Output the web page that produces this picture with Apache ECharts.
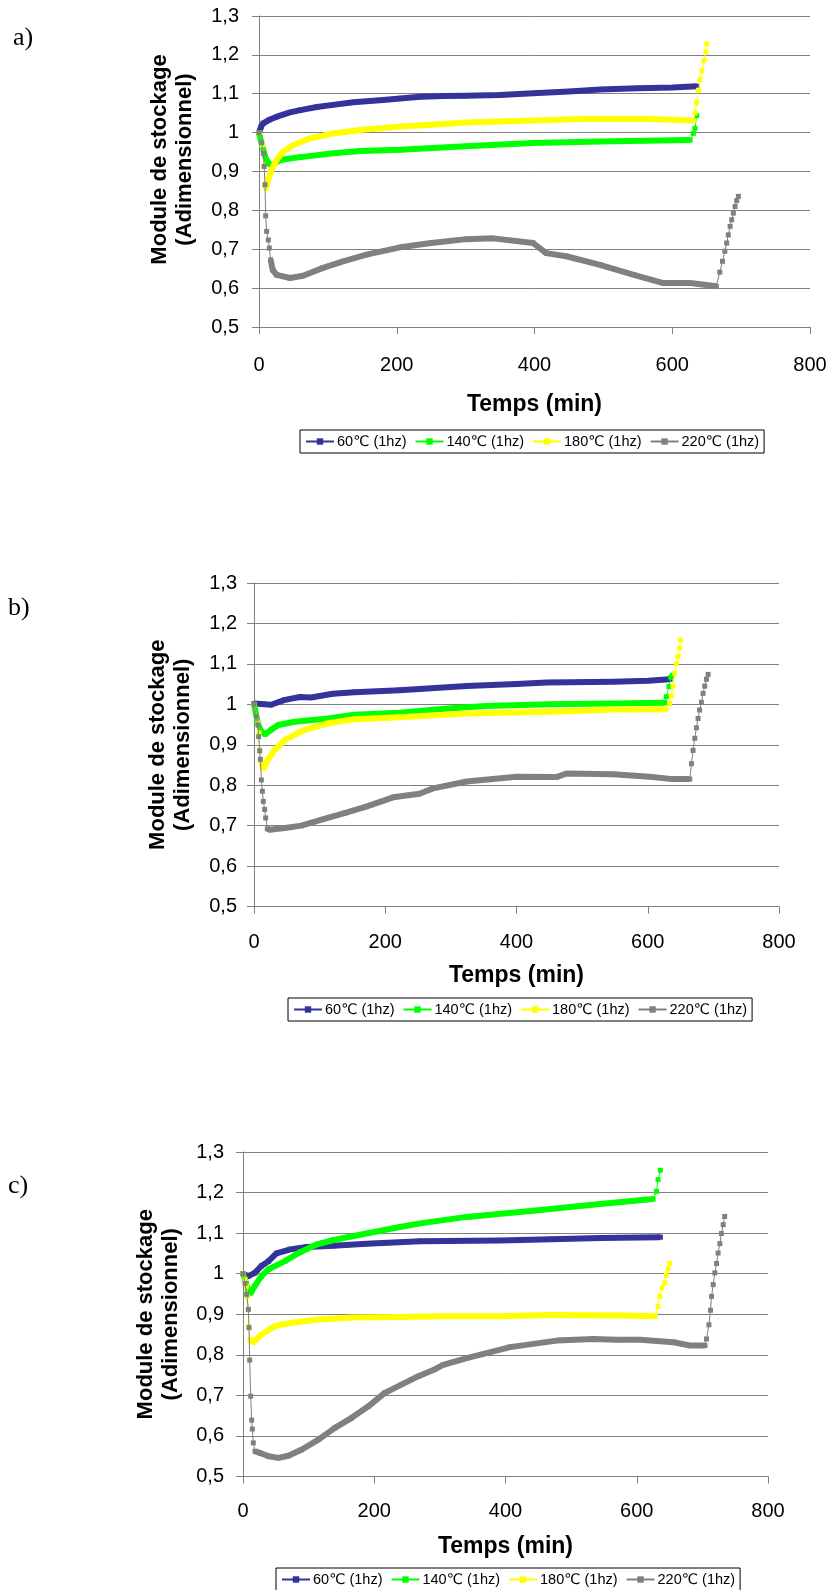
<!DOCTYPE html>
<html>
<head>
<meta charset="utf-8">
<script src="https://cdn.jsdelivr.net/npm/echarts@6/dist/echarts.min.js"></script>
<style>
  html, body { margin: 0; padding: 0; background: #fff; }
  #chart { width: 832px; height: 1590px; }
</style>
</head>
<body>
<div id="chart"></div>
<script>
// noms et couleurs des courbes
var names = ['60℃ (1hz)', '140℃ (1hz)', '180℃ (1hz)', '220℃ (1hz)'];
var colors = ['#333399', '#00ff00', '#ffff00', '#808080'];
var xTicks = [0, 800, 200];
var yTicks = [0.5, 1.3, 0.1];

// a) [temps (min), module]
var a60 = [[0,1.0],[3,1.015],[6,1.024],[15,1.033],[26,1.041],[45,1.052],[60,1.058],[84,1.066],[110,1.072],[137,1.078],[180,1.084],[205,1.088],[234,1.092],[270,1.094],[300,1.095],[350,1.097],[398,1.101],[450,1.106],[495,1.111],[550,1.114],[600,1.116],[636,1.119]];
var a140 = [[0,1.0],[4,0.97],[9,0.938],[13.5,0.921],[18,0.915],[26,0.925],[35,0.931],[60,0.937],[108,0.947],[147,0.953],[205,0.956],[300,0.965],[398,0.973],[495,0.977],[560,0.979],[626,0.981],[630.6,0.998],[633,1.011],[635.5,1.044]];
var a180 = [[0,1.0],[5,0.968],[7.3,0.913],[8.7,0.866],[10.5,0.858],[13.5,0.878],[18,0.904],[25.6,0.93],[35,0.951],[50,0.968],[74,0.985],[108,0.998],[147,1.007],[205,1.016],[250,1.02],[301,1.026],[398,1.031],[470,1.035],[567,1.035],[631,1.031],[633,1.051],[635.5,1.077],[638,1.109],[640.5,1.137],[643,1.159],[646,1.185],[648.8,1.208],[650.3,1.228]];
var a220 = [[0,1.0],[3.9,0.974],[6.3,0.947],[7.5,0.913],[8.7,0.866],[9.7,0.786],[11.1,0.746],[13.5,0.724],[15,0.703],[17,0.673],[19.8,0.647],[25.6,0.634],[45,0.626],[64,0.632],[93,0.652],[122,0.669],[156,0.686],[205,0.705],[250,0.716],[301,0.726],[340,0.728],[398,0.716],[417,0.69],[446,0.682],[495,0.66],[543,0.635],[587,0.613],[626,0.613],[664,0.605],[669,0.641],[673,0.669],[676.4,0.695],[679,0.716],[681.4,0.737],[684,0.759],[686.3,0.776],[688.7,0.793],[691.2,0.81],[693.6,0.825],[696,0.836]];

// b)
var b60 = [[0,1.002],[16,1.0],[26,0.999],[47,1.011],[70,1.018],[87,1.017],[120,1.026],[153,1.03],[222,1.035],[324,1.045],[400,1.05],[446,1.054],[547,1.056],[600,1.058],[634,1.062]];
var b140 = [[0,1.0],[6,0.953],[11,0.933],[17,0.926],[26,0.937],[37,0.949],[62,0.957],[113,0.965],[153,0.974],[222,0.979],[300,0.99],[354,0.996],[450,1.0],[547,1.002],[626,1.004],[628.3,1.019],[632.4,1.044],[635,1.067],[637.5,1.072]];
var b180 = [[0,1.0],[4,0.97],[6,0.953],[7.6,0.929],[8.6,0.887],[11.2,0.854],[14.7,0.842],[21,0.863],[31.5,0.887],[47,0.912],[77,0.937],[113,0.953],[153,0.963],[222,0.968],[324,0.977],[466,0.982],[547,0.987],[628,0.988],[633.4,1.002],[636,1.021],[638.5,1.045],[641,1.077],[643.6,1.1],[646,1.118],[648.6,1.139],[650,1.159]];
var b220 = [[0,1.0],[3.6,0.97],[6.1,0.949],[7.1,0.92],[8.6,0.885],[9.7,0.864],[11.2,0.813],[12.7,0.785],[14.2,0.76],[16.3,0.74],[17.8,0.719],[20.3,0.692],[24,0.69],[47,0.694],[72,0.7],[103,0.715],[138,0.731],[171,0.747],[212,0.77],[252,0.779],[273,0.792],[324,0.809],[400,0.821],[461,0.82],[476,0.829],[547,0.827],[603,0.821],[638,0.815],[664,0.815],[666.6,0.853],[669,0.886],[671.7,0.916],[674.2,0.942],[676.7,0.965],[679,0.986],[681.8,1.005],[684.3,1.027],[686.8,1.045],[689.4,1.062],[692,1.074]];

// c)
var c60 = [[0,1.0],[8,0.994],[18,1.002],[28,1.019],[39,1.031],[51,1.05],[72,1.06],[97,1.066],[138,1.069],[188,1.074],[270,1.08],[391,1.082],[470,1.085],[544,1.088],[636,1.09]];
var c140 = [[0,1.0],[3,0.986],[8,0.957],[12,0.953],[18,0.97],[28,0.994],[39,1.011],[64,1.031],[87,1.053],[112,1.072],[138,1.083],[188,1.099],[239,1.115],[270,1.124],[341,1.14],[442,1.155],[544,1.172],[625,1.184],[630,1.203],[632.5,1.232],[636,1.255]];
var c180 = [[0,1.0],[3,0.985],[5.6,0.969],[6.6,0.944],[8.1,0.911],[9.1,0.87],[10.5,0.838],[15.7,0.831],[28,0.85],[49,0.871],[74,0.879],[115,0.887],[166,0.892],[239,0.893],[300,0.895],[391,0.895],[467,0.898],[584,0.897],[628,0.895],[632.5,0.919],[635,0.944],[638.5,0.965],[642.6,0.977],[645,0.996],[647.8,1.012],[650.3,1.026]];
var c220 = [[0,1.0],[3,0.976],[5.6,0.949],[8.1,0.912],[9.1,0.867],[10.2,0.787],[11.7,0.698],[13.2,0.639],[14.2,0.617],[15.7,0.583],[18.3,0.562],[26,0.558],[39,0.55],[54,0.546],[69,0.551],[89,0.566],[115,0.591],[140,0.62],[165,0.644],[191,0.673],[216,0.706],[242,0.727],[267,0.747],[292,0.764],[305,0.775],[341,0.792],[407,0.819],[478,0.835],[534,0.839],[569,0.837],[605,0.837],[656,0.831],[681,0.823],[704,0.823],[706.3,0.839],[710,0.874],[712.4,0.91],[714,0.944],[716.5,0.973],[719,1.002],[721.6,1.025],[724,1.051],[726.6,1.074],[729,1.099],[731.7,1.121],[734,1.141]];

var chart = echarts.init(document.getElementById('chart'));

var font = "'Liberation Sans', 'DejaVu Sans', sans-serif";
var gridColor = '#7f7f7f';

// positions des trois graphiques
var panels = [
    {label: 'a)', lx: 13, ly: 25, left: 259, right: 22, top: 16, height: 311, ylm: 20, ygap: 62, yshift: 24, xlm: 28, xgap: 66, legLeft: 300, legTop: 430},
    {label: 'b)', lx: 8, ly: 595, left: 254, right: 53, top: 583, height: 323.5, ylm: 17, ygap: 59, yshift: 0, xlm: 26, xgap: 58, legLeft: 288, legTop: 998},
    {label: 'c)', lx: 8, ly: 1173, left: 243, right: 64, top: 1152, height: 324.5, ylm: 19, ygap: 60, yshift: 0, xlm: 25, xgap: 59, legLeft: 276, legTop: 1568}
];

var titles = [], grids = [], xAxes = [], yAxes = [], legends = [], series = [];

panels.forEach(function (p, i) {
    titles.push({
        text: p.label, left: p.lx, top: p.ly, padding: 0,
        textStyle: {fontFamily: "'Liberation Serif', 'DejaVu Serif', serif", fontSize: 26, fontWeight: 'normal', color: '#000'}
    });
    grids.push({left: p.left, right: p.right, top: p.top, height: p.height});
    xAxes.push({
        type: 'value', gridIndex: i, min: xTicks[0], max: xTicks[1], interval: xTicks[2],
        name: 'Temps (min)', nameLocation: 'middle', nameGap: p.xgap,
        nameTextStyle: {fontFamily: font, fontSize: 23, fontWeight: 'bold', color: '#000'},
        axisLine: {lineStyle: {color: gridColor, width: 1}},
        axisTick: {show: true, length: 7, lineStyle: {color: gridColor}},
        axisLabel: {margin: p.xlm, fontFamily: font, fontSize: 20, color: '#000'},
        splitLine: {show: false}
    });
    yAxes.push({
        type: 'value', gridIndex: i, min: yTicks[0], max: yTicks[1], interval: yTicks[2],
        name: 'Module de stockage\n(Adimensionnel)', nameLocation: 'middle', nameGap: p.ygap, nameRotate: 90,
        nameTextStyle: {fontFamily: font, fontSize: 22, fontWeight: 'bold', color: '#000', lineHeight: 25,
            padding: [0, 0, 0, p.yshift]},
        axisLine: {show: true, lineStyle: {color: gridColor, width: 1}},
        axisTick: {show: true, length: 7, lineStyle: {color: gridColor}},
        axisLabel: {
            margin: p.ylm, fontFamily: font, fontSize: 20, color: '#000',
            formatter: function (v) { return String(Math.round(v * 10) / 10).replace('.', ','); }
        },
        splitLine: {show: true, lineStyle: {color: gridColor, width: 1}}
    });
    legends.push({
        data: names, left: p.legLeft, top: p.legTop,
        orient: 'horizontal', itemWidth: 28, itemHeight: 8, itemGap: 8,
        borderColor: '#000', borderWidth: 1, padding: [4, 5],
        textStyle: {fontFamily: font, fontSize: 14.5, color: '#000', padding: [0, 0, 0, -2]}
    });
});

// une courbe = trait fin avec marqueurs + bande épaisse sur la partie dense
function addCurve(gi, k, data, from, to) {
    series.push({
        name: names[k], type: 'line', xAxisIndex: gi, yAxisIndex: gi,
        data: data, symbol: 'rect', symbolSize: 5, showSymbol: true,
        lineStyle: {width: 1, color: colors[k]}, itemStyle: {color: colors[k]},
        z: 3 + k, animation: false
    });
    series.push({
        name: names[k], type: 'line', xAxisIndex: gi, yAxisIndex: gi,
        data: data.slice(from, to + 1), symbol: 'none', showSymbol: false,
        lineStyle: {width: 6, color: colors[k], join: 'round'}, itemStyle: {color: colors[k]},
        z: 3 + k, animation: false
    });
}

addCurve(0, 0, a60, 0, a60.length - 1);
addCurve(0, 1, a140, 0, 15);
addCurve(0, 2, a180, 3, 19);
addCurve(0, 3, a220, 9, 28);

addCurve(1, 0, b60, 0, b60.length - 1);
addCurve(1, 1, b140, 0, 14);
addCurve(1, 2, b180, 5, 17);
addCurve(1, 3, b220, 11, 28);

addCurve(2, 0, c60, 0, c60.length - 1);
addCurve(2, 1, c140, 0, 17);
addCurve(2, 2, c180, 6, 18);
addCurve(2, 3, c220, 10, 33);

chart.setOption({
    backgroundColor: '#fff',
    animation: false,
    title: titles,
    grid: grids,
    xAxis: xAxes,
    yAxis: yAxes,
    legend: legends,
    series: series
});
</script>
</body>
</html>
